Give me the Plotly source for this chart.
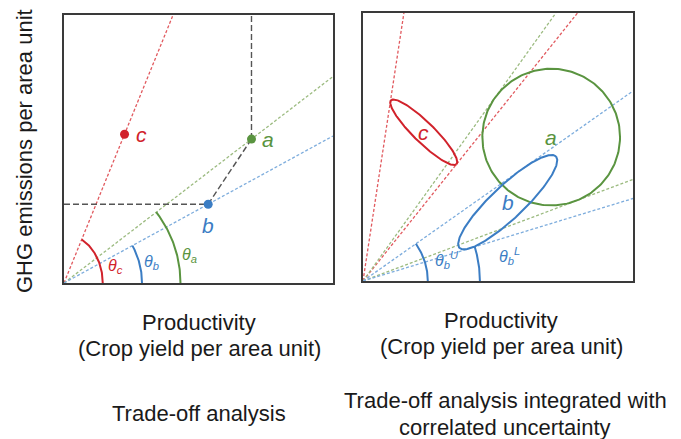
import numpy as np
import plotly.graph_objects as go

# Alternatives: productivity (crop yield) vs GHG emissions, arbitrary units 0-10
names = ["a", "b", "c"]
productivity = [6.97, 5.36, 2.25]
emissions = [5.37, 2.94, 5.55]

# Correlated uncertainty of each alternative (ellipse semi-axes, orientation in degrees)
semi_major = [2.55, 2.47, 1.70]
semi_minor = [2.55, 0.61, 0.38]
orientation = [0.0, 43.7, -44.6]

COL = {"a": "#5A9440", "b": "#3B7DC4", "c": "#D1222B"}
RAY = {"a": "#9CBB80", "b": "#7EADDD", "c": "#E15A5F"}
FRAME = "#3A3A3A"
FONT = "Liberation Sans, Arial, sans-serif"

W, H = 681, 439
L_BOX = (64, 333, 15, 283)    # left, right, top, bottom (px)
R_BOX = (363, 633, 13, 281)

fig = go.Figure()


def ray_end(theta):
    """End point of a ray from the origin at angle theta, clipped to the 10x10 box."""
    c, s = np.cos(theta), np.sin(theta)
    t = min(10 / c if c > 1e-9 else np.inf, 10 / s if s > 1e-9 else np.inf)
    return t * c, t * s


def line(x, y, color, width, dash, xa, ya):
    fig.add_trace(go.Scatter(x=x, y=y, mode="lines", xaxis=xa, yaxis=ya,
                             line=dict(color=color, width=width, dash=dash),
                             hoverinfo="skip", showlegend=False))


def arc(theta, rx, ry, color, xa, ya):
    t_end = np.arctan(np.tan(theta) * rx / ry)
    t = np.linspace(0, t_end, 60)
    line(rx * np.cos(t), ry * np.sin(t), color, 2, "solid", xa, ya)


def ellipse(cx, cy, a, b, phi_deg, n=240):
    phi = np.radians(phi_deg)
    t = np.linspace(0, 2 * np.pi, n)
    x = cx + a * np.cos(t) * np.cos(phi) - b * np.sin(t) * np.sin(phi)
    y = cy + a * np.cos(t) * np.sin(phi) + b * np.sin(t) * np.cos(phi)
    return x, y


# ---------------- Left panel: deterministic trade-off ----------------
pts = dict(zip(names, zip(productivity, emissions)))
ang = {k: np.arctan2(v[1], v[0]) for k, v in pts.items()}

for k in ["c", "a", "b"]:
    ex, ey = ray_end(ang[k])
    line([0, ex], [0, ey], RAY[k], 1.3, "3px,2px", "x", "y")

ax_, ay_ = pts["a"]
bx_, by_ = pts["b"]
line([ax_, ax_], [ay_, 10], "#555555", 1.4, "6px,3px", "x", "y")
line([0, bx_], [by_, by_], "#555555", 1.4, "6px,3px", "x", "y")
line([bx_, ax_], [by_, ay_], "#555555", 1.4, "6px,3px", "x", "y")

arc(ang["a"], 4.33, 4.33, COL["a"], "x", "y")
arc(ang["b"], 2.90, 2.90, COL["b"], "x", "y")
arc(ang["c"], 1.44, 1.82, COL["c"], "x", "y")

for k in names:
    fig.add_trace(go.Scatter(x=[pts[k][0]], y=[pts[k][1]], mode="markers",
                             xaxis="x", yaxis="y",
                             marker=dict(color=COL[k], size=9),
                             hoverinfo="skip", showlegend=False))

shift = {"a": (17, 0), "b": (0, -21), "c": (17, 0)}
for k in names:
    fig.add_annotation(x=pts[k][0], y=pts[k][1], xref="x", yref="y",
                       text=f"<i>{k}</i>", showarrow=False,
                       xshift=shift[k][0], yshift=shift[k][1],
                       font=dict(family=FONT, size=21, color=COL[k]))

theta_lbl = [("c", 1.90, 0.60), ("b", 3.27, 0.75), ("a", 4.68, 1.04)]
for k, tx, ty in theta_lbl:
    fig.add_annotation(x=tx, y=ty, xref="x", yref="y",
                       text=f"<i>θ<sub>{k}</sub></i>", showarrow=False,
                       font=dict(family=FONT, size=16, color=COL[k]))

# ---------------- Right panel: trade-off with correlated uncertainty ----------------
tangents = {}
shapes_xy = {}
for k, cx, cy, A, B, phi in zip(names, productivity, emissions,
                                 semi_major, semi_minor, orientation):
    ex, ey = ellipse(cx, cy, A, B, phi)
    shapes_xy[k] = (ex, ey)
    th = np.arctan2(ey, ex)
    tangents[k] = (th.min(), th.max())

for k in ["c", "a", "b"]:
    for th in tangents[k]:
        rx_, ry_ = ray_end(th)
        line([0, rx_], [0, ry_], RAY[k], 1.3, "3px,2px", "x2", "y2")

for k in ["a", "c", "b"]:
    ex, ey = shapes_xy[k]
    line(ex, ey, COL[k], 2, "solid", "x2", "y2")

arc(tangents["b"][1], 2.40, 2.40, COL["b"], "x2", "y2")
arc(tangents["b"][0], 4.33, 4.33, COL["b"], "x2", "y2")

for k in names:
    fig.add_annotation(x=pts[k][0], y=pts[k][1], xref="x2", yref="y2",
                       text=f"<i>{k}</i>", showarrow=False,
                       font=dict(family=FONT, size=21, color=COL[k]))

fig.add_annotation(x=3.10, y=0.80, xref="x2", yref="y2",
                   text="<i>θ<sub>b</sub><sup>U</sup></i>", showarrow=False,
                   font=dict(family=FONT, size=16, color=COL["b"]))
fig.add_annotation(x=5.44, y=0.93, xref="x2", yref="y2",
                   text="<i>θ<sub>b</sub><sup>L</sup></i>", showarrow=False,
                   font=dict(family=FONT, size=16, color=COL["b"]))

# ---------------- Axis titles and captions ----------------
def px(x, y):
    return x / W, 1 - y / H


def caption(x, y, text, angle=0, size=22):
    xp, yp = px(x, y)
    fig.add_annotation(x=xp, y=yp, xref="paper", yref="paper", text=text,
                       xanchor="center", yanchor="middle",
                       showarrow=False, textangle=angle, align="center",
                       font=dict(family=FONT, size=size, color="#1A1A1A"))


caption(24, 151, "GHG emissions per area unit", angle=-90)
caption(199, 322, "Productivity")
caption(199, 348, "(Crop yield per area unit)")
caption(501, 320, "Productivity")
caption(501, 346, "(Crop yield per area unit)")
caption(199, 413, "Trade-off analysis")
caption(505, 400, "Trade-off analysis integrated with")
caption(505, 427, "correlated uncertainty")


def axis(dom):
    return dict(domain=dom, range=[0, 10], showline=True, mirror=True,
                linecolor=FRAME, linewidth=2, showgrid=False, zeroline=False,
                showticklabels=False, ticks="", fixedrange=True)


def box_domains(box):
    l, r, t, b = box
    return [l / W, r / W], [1 - b / H, 1 - t / H]


lx, ly = box_domains(L_BOX)
rx, ry = box_domains(R_BOX)
fig.update_layout(
    width=W, height=H, margin=dict(l=0, r=0, t=0, b=0),
    paper_bgcolor="white", plot_bgcolor="white",
    xaxis=dict(axis(lx), anchor="y"), yaxis=dict(axis(ly), anchor="x"),
    xaxis2=dict(axis(rx), anchor="y2"), yaxis2=dict(axis(ry), anchor="x2"),
)

fig.write_html("out.html")
